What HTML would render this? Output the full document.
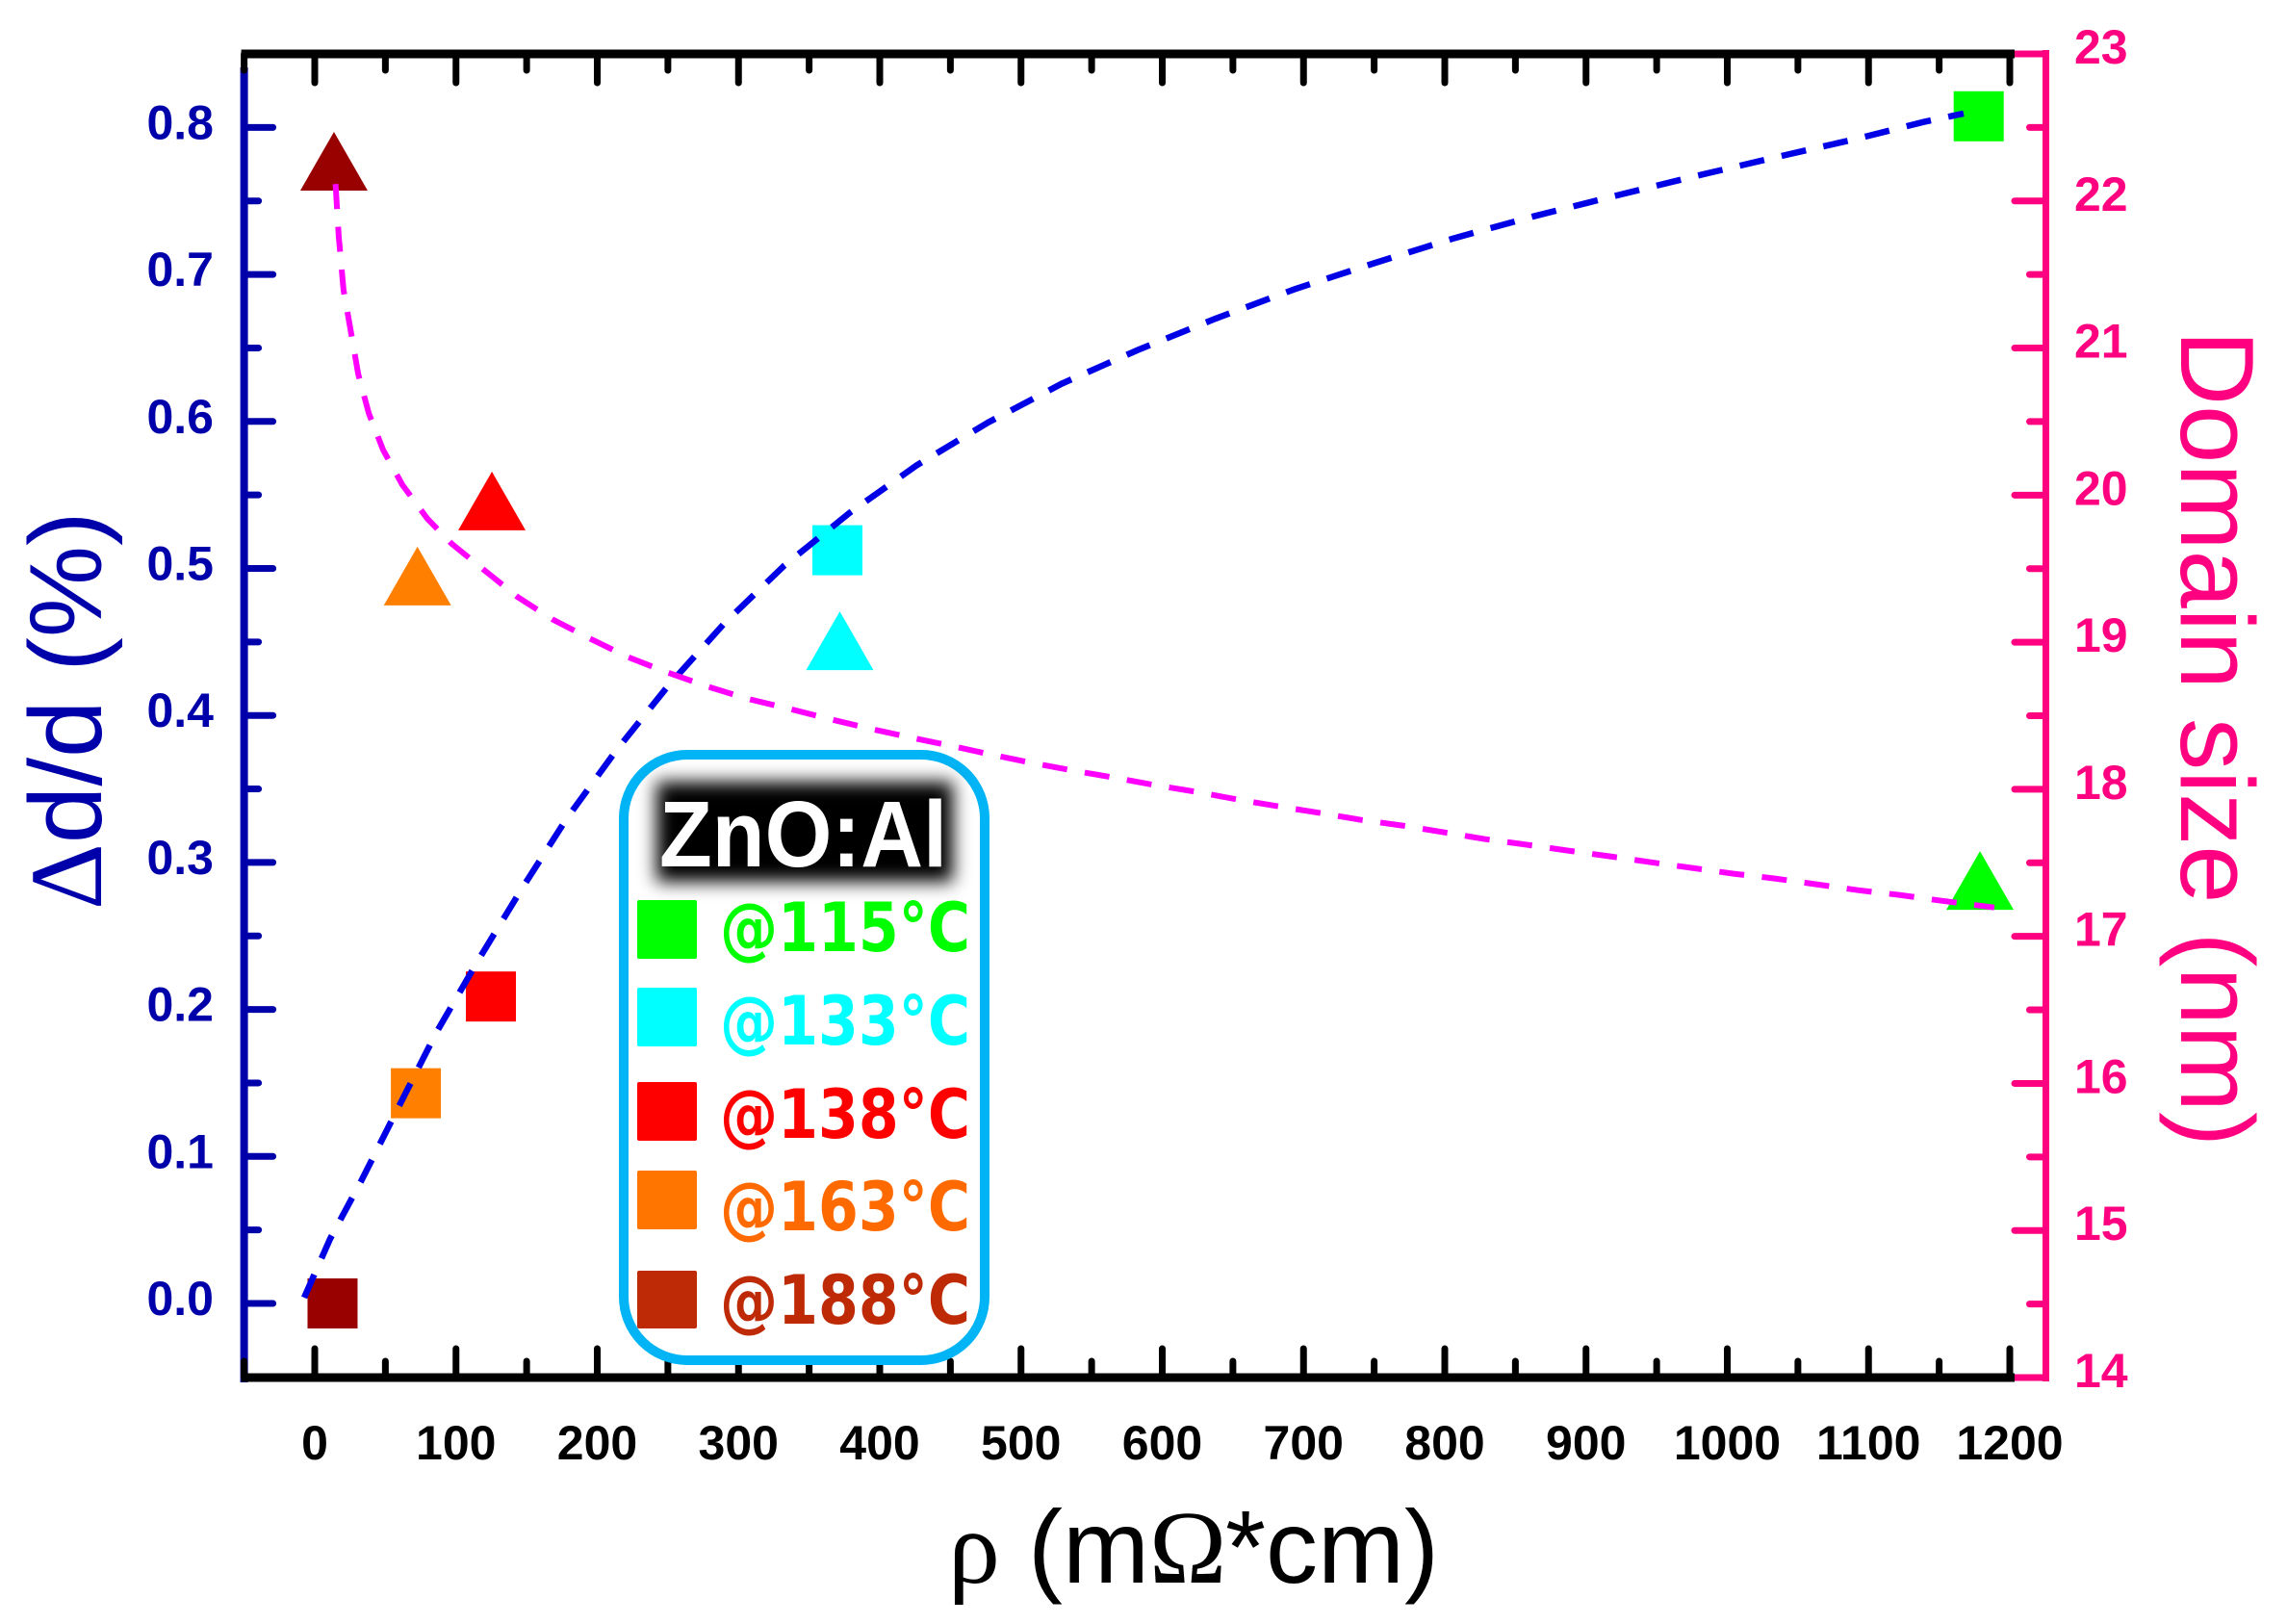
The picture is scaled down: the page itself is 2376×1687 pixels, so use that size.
<!DOCTYPE html>
<html lang="en">
<head>
<meta charset="utf-8">
<title>ZnO:Al strain and domain size vs resistivity</title>
<style>
  html, body { margin: 0; padding: 0; background: #fff; }
  body { width: 2376px; height: 1687px; overflow: hidden; }
  svg { display: block; }
  text { font-family: "Liberation Sans", sans-serif; }
  .serif { font-family: "Liberation Serif", serif; }
  .legend-label { font-family: "DejaVu Sans", "Liberation Sans", sans-serif; }
</style>
</head>
<body>
<svg id="chart" xmlns="http://www.w3.org/2000/svg" width="2376" height="1687" viewBox="0 0 2376 1687">
  <defs>
    <filter id="glow" x="-20%" y="-40%" width="140%" height="180%"><feGaussianBlur stdDeviation="9"/></filter>
  </defs>
  <rect width="2376" height="1687" fill="#ffffff"/>
  <g id="axes"></g>
  <g id="marks"></g>
  <g id="curves"></g>

  <g>
    <rect x="648" y="784" width="375" height="629" rx="66" ry="66" fill="#ffffff" stroke="#00b4f5" stroke-width="10"/>
    <rect x="682" y="812" width="308" height="104" fill="#000000" filter="url(#glow)"/>
    <text x="685" y="900" font-size="97" font-weight="700" fill="#ffffff" textLength="299" lengthAdjust="spacingAndGlyphs">ZnO:Al</text>

    <rect x="662" y="935" width="62" height="61" rx="2" fill="#00ff00"/>
    <text class="legend-label" x="748" y="988" font-size="70" font-weight="700" fill="#00ff00" textLength="260" lengthAdjust="spacingAndGlyphs">@115°C</text>
    <rect x="662" y="1026" width="62" height="61" rx="2" fill="#00ffff"/>
    <text class="legend-label" x="748" y="1085" font-size="70" font-weight="700" fill="#00ffff" textLength="260" lengthAdjust="spacingAndGlyphs">@133°C</text>
    <rect x="662" y="1124" width="62" height="61" rx="2" fill="#ff0000"/>
    <text class="legend-label" x="748" y="1182" font-size="70" font-weight="700" fill="#ff0000" textLength="260" lengthAdjust="spacingAndGlyphs">@138°C</text>
    <rect x="662" y="1216" width="62" height="61" rx="2" fill="#ff7500"/>
    <text class="legend-label" x="748" y="1278" font-size="70" font-weight="700" fill="#ff6a00" textLength="260" lengthAdjust="spacingAndGlyphs">@163°C</text>
    <rect x="662" y="1320" width="62" height="60" rx="2" fill="#bf2a06"/>
    <text class="legend-label" x="748" y="1375" font-size="70" font-weight="700" fill="#bf2a06" textLength="260" lengthAdjust="spacingAndGlyphs">@188°C</text>
  </g>

  <text y="1644" font-size="108" fill="#000000"><tspan class="serif" x="985">ρ</tspan><tspan x="1068">(m</tspan><tspan class="serif" x="1194">Ω</tspan><tspan x="1273">*cm)</tspan></text>
  <text transform="translate(105,945) rotate(-90)" font-size="107" fill="#0000aa"><tspan class="serif">Δ</tspan><tspan>d/d (%)</tspan></text>
  <text transform="translate(2266,343) rotate(90)" font-size="109" fill="#ff0080" textLength="848" lengthAdjust="spacingAndGlyphs">Domain size (nm)</text>
</svg>

<script>
// Axis tick values and labels
const xMajorTicks = [0, 100, 200, 300, 400, 500, 600, 700, 800, 900, 1000, 1100, 1200];
const xMinorTicks = [-50, 50, 150, 250, 350, 450, 550, 650, 750, 850, 950, 1050, 1150];
const xTickLabels = ["0", "100", "200", "300", "400", "500", "600", "700", "800", "900", "1000", "1100", "1200"];
const leftMajorTicks = [0, 0.1, 0.2, 0.3, 0.4, 0.5, 0.6, 0.7, 0.8];
const leftMinorTicks = [-0.05, 0.05, 0.15, 0.25, 0.35, 0.45, 0.55, 0.65, 0.75];
const leftTickLabels = ["0.0", "0.1", "0.2", "0.3", "0.4", "0.5", "0.6", "0.7", "0.8"];
const rightMajorTicks = [14, 15, 16, 17, 18, 19, 20, 21, 22, 23];
const rightMinorTicks = [14.5, 15.5, 16.5, 17.5, 18.5, 19.5, 20.5, 21.5, 22.5];
const rightTickLabels = ["14", "15", "16", "17", "18", "19", "20", "21", "22", "23"];

// Series: one entry per annealing temperature
const seriesTemps = ["115", "133", "138", "163", "188"];
const seriesColors = ["#00ff00", "#00ffff", "#ff0000", "#ff8000", "#990000"];
const squareRho = [1178, 370, 124.7, 71.6, 12.6];
const squareStrain = [0.8076, 0.5124, 0.2088, 0.143, 0];
const triangleRho = [1178.9, 371.7, 125.4, 72.7, 13.6];
const triangleDomain = [17.38, 19.01, 19.96, 19.45, 22.27];

// Dashed trend curves
const strainCurveRho = [-7.5, 10.9, 32.7, 59.3, 85.9, 115.8, 146.5, 178.5, 213.3, 250, 290.3, 332.5, 378.9, 425.9, 477, 528.8, 582.6, 637.8, 693.7, 749.6, 806, 862.7, 919.9, 977.9, 1035.8, 1092.4, 1138.7, 1167.3];
const strainCurveValue = [0.004, 0.044, 0.083, 0.1335, 0.184, 0.2336, 0.282, 0.33, 0.376, 0.42, 0.463, 0.502, 0.538, 0.57, 0.5995, 0.6257, 0.6486, 0.67, 0.69, 0.7075, 0.7245, 0.7395, 0.7533, 0.767, 0.78, 0.7925, 0.8037, 0.8095];
const domainCurveRho = [14.7, 17, 20.4, 25.9, 30.7, 38.2, 48.4, 62, 79.7, 96.8, 119.9, 143.8, 168.3, 194.9, 221.5, 249.4, 276.7, 305.3, 333.9, 363.2, 391.8, 419.8, 449.7, 477.7, 507.7, 537, 565.6, 594.9, 624.2, 653.5, 682.1, 712.1, 740.7, 770, 799.3, 828.6, 858.6, 887.2, 916.5, 945.8, 975.1, 1004.4, 1033.7, 1063, 1092.4, 1121.6, 1151.6, 1189];
const domainCurveValue = [22.115, 21.76, 21.395, 21.094, 20.825, 20.557, 20.308, 20.07, 19.84, 19.67, 19.49, 19.306, 19.155, 19.024, 18.9, 18.795, 18.703, 18.618, 18.552, 18.48, 18.415, 18.356, 18.297, 18.238, 18.179, 18.127, 18.08, 18.028, 17.982, 17.93, 17.884, 17.838, 17.792, 17.753, 17.707, 17.661, 17.622, 17.583, 17.544, 17.504, 17.465, 17.426, 17.393, 17.354, 17.314, 17.282, 17.242, 17.196];

const NS = "http://www.w3.org/2000/svg";
const BLUE = "#0000aa", PINK = "#ff0080", BLACK = "#000000";
const TOP = 56, BOTTOM = 1431, LEFT = 253.6, RIGHT = 2125.5, BLACK_END = 2093;

function xPos(v) { return 327 + v * 1.4675; }
function yLeft(v) { return 1354 - v * 1527; }
function yRight(v) { return 1431 - (v - 14) * 152.78; }

function svgEl(tag, parent, props) {
  const el = document.createElementNS(NS, tag);
  for (const k in props) el.setAttribute(k, props[k]);
  parent.appendChild(el);
  return el;
}
function lineEl(parent, x1, y1, x2, y2, color, w, cap) {
  return svgEl("line", parent, { x1: x1, y1: y1, x2: x2, y2: y2, stroke: color, "stroke-width": w, "stroke-linecap": cap || "butt" });
}
function textEl(parent, x, y, str, color, anchor) {
  const t = svgEl("text", parent, { x: x, y: y, fill: color, "font-size": 50, "font-weight": 700, "text-anchor": anchor });
  t.textContent = str;
  return t;
}

const axes = document.getElementById("axes");
const marks = document.getElementById("marks");
const curves = document.getElementById("curves");

// Left axis
const leftSpine = lineEl(axes, LEFT, 70, LEFT, BOTTOM + 5, BLUE, 8);


leftMajorTicks.forEach(function (v, i) {
  const t = lineEl(axes, LEFT, yLeft(v), LEFT + 30, yLeft(v), BLUE, 7, "round");
  
  
  const l = textEl(axes, 222, yLeft(v) + 12, leftTickLabels[i], BLUE, "end");
  
  
});
leftMinorTicks.forEach(function (v) {
  const t = lineEl(axes, LEFT, yLeft(v), LEFT + 15, yLeft(v), BLUE, 7, "round");
  
  
});

// Right axis
const rightSpine = lineEl(axes, RIGHT, TOP - 4, RIGHT, BOTTOM + 4, PINK, 7);


rightMajorTicks.forEach(function (v, i) {
  const t = lineEl(axes, BLACK_END, yRight(v), RIGHT, yRight(v), PINK, 7, "round");
  
  
  const l = textEl(axes, 2155, yRight(v) + 10, rightTickLabels[i], PINK, "start");
  
  
});
rightMinorTicks.forEach(function (v) {
  const t = lineEl(axes, RIGHT - 17, yRight(v), RIGHT, yRight(v), PINK, 7, "round");
  
  
});

// Horizontal axes
const bottomSpine = lineEl(axes, LEFT - 3, BOTTOM, BLACK_END, BOTTOM, BLACK, 9);


const topSpine = lineEl(axes, LEFT - 3, TOP, BLACK_END, TOP, BLACK, 9);


xMajorTicks.forEach(function (v, i) {
  const b = lineEl(axes, xPos(v), BOTTOM, xPos(v), BOTTOM - 30, BLACK, 7, "round");
  
  
  const t = lineEl(axes, xPos(v), TOP, xPos(v), TOP + 30, BLACK, 7, "round");
  
  
  const l = textEl(axes, xPos(v), 1516, xTickLabels[i], BLACK, "middle");
  
  
});
xMinorTicks.forEach(function (v) {
  const b = lineEl(axes, xPos(v), BOTTOM, xPos(v), BOTTOM - 17, BLACK, 7, "round");
  
  
  const t = lineEl(axes, xPos(v), TOP, xPos(v), TOP + 17, BLACK, 7, "round");
  
  
});

// Markers
seriesTemps.forEach(function (temp, i) {
  const cx = xPos(squareRho[i]), cy = yLeft(squareStrain[i]);
  const s = svgEl("rect", marks, { x: cx - 26, y: cy - 26, width: 52, height: 52, fill: seriesColors[i] });
  
  
  const tx = xPos(triangleRho[i]), ty = yRight(triangleDomain[i]);
  const tri = svgEl("path", marks, {
    d: "M" + tx + " " + (ty - 30.5) + "L" + (tx + 35) + " " + (ty + 30.5) + "L" + (tx - 35) + " " + (ty + 30.5) + "Z",
    fill: seriesColors[i]
  });
  
  
});

// Curves
function curvePath(xs, ys, yFn) {
  return xs.map(function (x, i) {
    return (i ? "L" : "M") + xPos(x).toFixed(1) + " " + yFn(ys[i]).toFixed(1);
  }).join("");
}
const strainLine = svgEl("path", curves, {
  d: curvePath(strainCurveRho, strainCurveValue, yLeft),
  fill: "none", stroke: "#0000e6", "stroke-width": 6.5, "stroke-dasharray": "26 18.5"
});


const domainLine = svgEl("path", curves, {
  d: curvePath(domainCurveRho, domainCurveValue, yRight),
  fill: "none", stroke: "#ff00ff", "stroke-width": 6, "stroke-dasharray": "26 18.5"
});


</script>
</body>
</html>
